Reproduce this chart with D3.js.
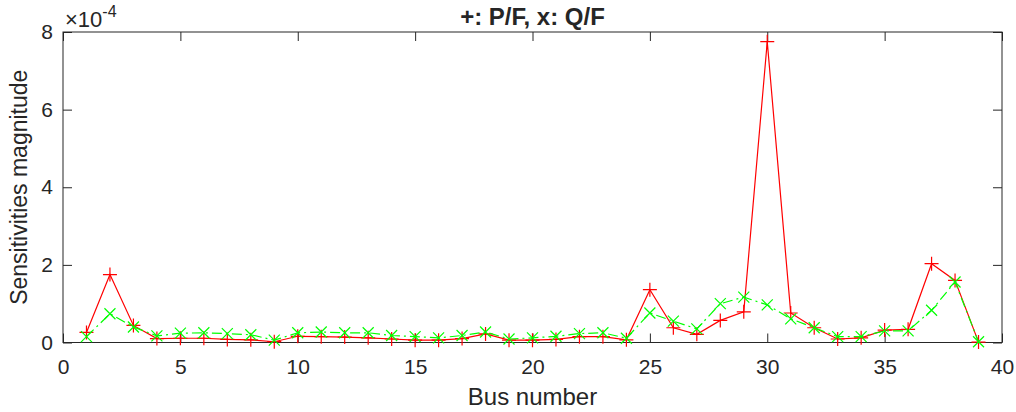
<!DOCTYPE html>
<html>
<head>
<meta charset="utf-8">
<script src="https://cdn.jsdelivr.net/npm/d3@7"></script>
<style>
    body { margin: 0; background: #fff; }
    text { font-family: "Liberation Sans", Arial, Helvetica, sans-serif; fill: #262626; }
</style>
</head>
<body>
<div id="chart"></div>
<script>
// bus numbers 1..39
const buses = d3.range(1, 40);
// sensitivities, in units of 1e-4
const pfValues = [0.26, 1.75, 0.44, 0.10, 0.11, 0.11, 0.08, 0.07, 0.02, 0.16,
    0.15, 0.14, 0.12, 0.09, 0.06, 0.06, 0.10, 0.22, 0.06, 0.06,
    0.08, 0.15, 0.15, 0.07, 1.36, 0.38, 0.21, 0.57, 0.79, 7.75,
    0.76, 0.38, 0.09, 0.12, 0.32, 0.34, 2.03, 1.60, 0.01];
const qfValues = [0.15, 0.74, 0.40, 0.17, 0.24, 0.25, 0.23, 0.20, 0.06, 0.25,
    0.27, 0.25, 0.25, 0.18, 0.15, 0.12, 0.18, 0.27, 0.09, 0.12,
    0.16, 0.23, 0.25, 0.11, 0.76, 0.55, 0.35, 1.00, 1.17, 0.97,
    0.61, 0.38, 0.15, 0.15, 0.30, 0.30, 0.83, 1.56, 0.02];
const xTicks = [0, 5, 10, 15, 20, 25, 30, 35, 40];
const yTicks = [0, 2, 4, 6, 8];

const W = 1016, H = 412;
const margin = { top: 32, right: 14, bottom: 69.5, left: 63 };
const width = W - margin.left - margin.right;
const height = H - margin.top - margin.bottom;
const axisColor = '#262626';
const tickLen = 9;

const svg = d3.select('#chart').append('svg')
    .attr('width', W)
    .attr('height', H);

const g = svg.append('g')
    .attr('transform', `translate(${margin.left},${margin.top})`);

const x = d3.scaleLinear().domain([0, 40]).range([0, width]);
const y = d3.scaleLinear().domain([0, 8]).range([height, 0]);

function styleAxis(sel, showLabels) {
    sel.select('.domain').remove();
    sel.selectAll('line').attr('stroke', axisColor).attr('stroke-width', 1);
    sel.selectAll('text')
        .style('font-size', '21px')
        .attr('fill', axisColor);
    if (!showLabels) sel.selectAll('text').remove();
}

g.append('g')
    .attr('transform', `translate(0,${height})`)
    .call(d3.axisBottom(x).tickValues(xTicks).tickSize(-tickLen).tickPadding(17).tickFormat(d3.format('d')))
    .call(s => styleAxis(s, true));

g.append('g')
    .call(d3.axisTop(x).tickValues(xTicks).tickSize(-tickLen))
    .call(s => styleAxis(s, false));

g.append('g')
    .call(d3.axisLeft(y).tickValues(yTicks).tickSize(-tickLen).tickPadding(10).tickFormat(d3.format('d')))
    .call(s => styleAxis(s, true));

g.append('g')
    .attr('transform', `translate(${width},0)`)
    .call(d3.axisRight(y).tickValues(yTicks).tickSize(-tickLen))
    .call(s => styleAxis(s, false));

g.append('rect')
    .attr('width', width)
    .attr('height', height)
    .attr('fill', 'none')
    .attr('stroke', axisColor)
    .attr('stroke-width', 1);

const pf = buses.map((b, i) => ({ bus: b, v: pfValues[i] }));
const qf = buses.map((b, i) => ({ bus: b, v: qfValues[i] }));

const line = d3.line().x(d => x(d.bus)).y(d => y(d.v));

// P/F: red, solid, plus markers
g.append('path')
    .datum(pf)
    .attr('fill', 'none')
    .attr('stroke', '#ff0000')
    .attr('stroke-width', 1.2)
    .attr('d', line);

g.selectAll('.plus')
    .data(pf)
    .enter()
    .append('path')
    .attr('class', 'plus')
    .attr('transform', d => `translate(${x(d.bus)},${y(d.v)})`)
    .attr('d', 'M-7,0H7M0,-7V7')
    .attr('stroke', '#ff0000')
    .attr('stroke-width', 1.2);

// Q/F: green, dash-dot, x markers
g.append('path')
    .datum(qf)
    .attr('fill', 'none')
    .attr('stroke', '#00ff00')
    .attr('stroke-width', 1.2)
    .attr('stroke-dasharray', '10,4,2,4')
    .attr('d', line);

g.selectAll('.cross')
    .data(qf)
    .enter()
    .append('path')
    .attr('class', 'cross')
    .attr('transform', d => `translate(${x(d.bus)},${y(d.v)})`)
    .attr('d', 'M-5.5,-5.5L5.5,5.5M-5.5,5.5L5.5,-5.5')
    .attr('stroke', '#00ff00')
    .attr('stroke-width', 1.2);

// title
svg.append('text')
    .attr('x', margin.left + width / 2)
    .attr('y', 25)
    .attr('text-anchor', 'middle')
    .style('font-size', '24px')
    .style('font-weight', 'bold')
    .attr('fill', '#000')
    .text('+: P/F, x: Q/F');

// exponent label
const expo = svg.append('text')
    .attr('x', margin.left + 2)
    .attr('y', 27)
    .style('font-size', '22px');
expo.append('tspan').text('\u00d710');
expo.append('tspan').attr('dy', -10).style('font-size', '16px').text('-4');

// axis labels
svg.append('text')
    .attr('x', margin.left + width / 2)
    .attr('y', 405)
    .attr('text-anchor', 'middle')
    .style('font-size', '24px')
    .text('Bus number');

svg.append('text')
    .attr('transform', `translate(27,${margin.top + height / 2}) rotate(-90)`)
    .attr('text-anchor', 'middle')
    .style('font-size', '23px')
    .text('Sensitivities magnitude');
</script>
</body>
</html>
